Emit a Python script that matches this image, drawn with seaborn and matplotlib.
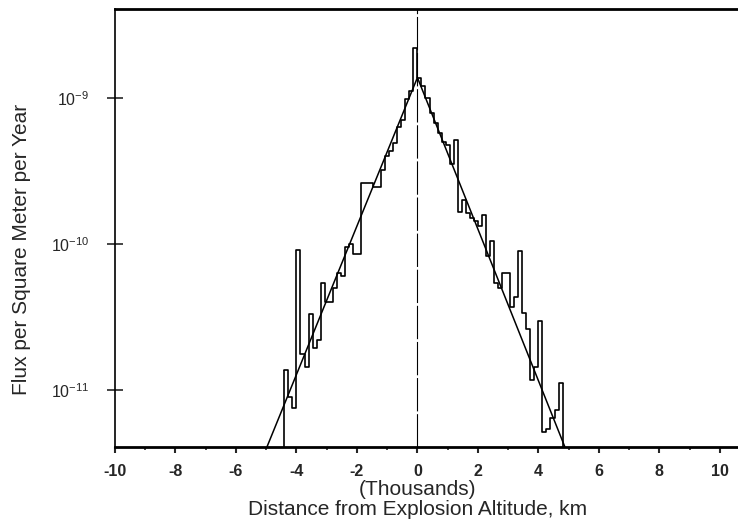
import numpy as np
import pandas as pd
import matplotlib
matplotlib.use("Agg")
import matplotlib.pyplot as plt
import seaborn as sns
from matplotlib.ticker import NullLocator, MultipleLocator

# histogram bins (thousands of km), 2/15 wide, starting at -4.4
bin_width = 2 / 15
first_edge = -4.4

# log10 of flux per bin left to right
log_flux = [
    -10.86, -11.05, -11.12, -10.04, -10.75, -10.84, -10.48, -10.71, -10.66, -10.27,
    -10.40, -10.40, -10.30, -10.20, -10.22, -10.02, -10.00, -10.07, -10.07, -9.58,
    -9.58, -9.58, -9.61, -9.61, -9.49, -9.40, -9.36, -9.31, -9.20, -9.15,
    -9.01, -8.95, -8.66,
    -8.86, -8.92, -9.00, -9.10, -9.17, -9.24, -9.30, -9.32, -9.45, -9.29,
    -9.78, -9.70, -9.79, -9.82, -9.84, -9.88, -9.80, -10.08, -9.98, -10.27,
    -10.30, -10.20, -10.20, -10.43, -10.36, -10.05, -10.47, -10.58, -10.93, -10.84,
    -10.53, -11.29, -11.27, -11.19, -11.14, -10.95,
]

# fitted exponential (straight on log axis)
fit_x = [-4.97, 0.0, 4.87]
fit_flux = [4.1e-12, 1.38e-9, 4.1e-12]

xticks = [-10, -8, -6, -4, -2, 0, 2, 4, 6, 8, 10]
yticks = [1e-11, 1e-10, 1e-9]
ytick_labels = ["10$^{-11}$", "10$^{-10}$", "10$^{-9}$"]

flux = 10 ** np.array(log_flux)
edges = first_edge + bin_width * np.arange(len(flux) + 1)
hist_df = pd.DataFrame({"distance": (edges[:-1] + edges[1:]) / 2, "flux": flux})
ylo, yhi = 4.07e-12, 4.07e-9

sns.set_style("ticks")
plt.rcParams["font.family"] = ["Liberation Sans", "DejaVu Sans"]
plt.rcParams["mathtext.fontset"] = "custom"
plt.rcParams["mathtext.rm"] = "Liberation Sans"
plt.rcParams["mathtext.it"] = "Liberation Sans"

fig = plt.figure(figsize=(7.38, 5.25), dpi=100)
ax = fig.add_axes([115 / 738, 78 / 525, 623 / 738, 438 / 525])
ax.set_yscale("log")

sns.histplot(data=hist_df, x="distance", weights="flux", bins=list(edges), element="step",
             fill=False, color="black", linewidth=1.2, ax=ax)
# close the outline down to the baseline at both ends
ax.vlines([edges[0], edges[-1]], ylo, [flux[0], flux[-1]], color="black", linewidth=1.2)

sns.lineplot(x=fit_x, y=fit_flux, color="black", linewidth=1.1, ax=ax)
ax.axvline(0, color="black", linewidth=0.8, linestyle=(0, (30, 2.5)))

ax.set_xlim(-10, 10.6)
ax.set_ylim(ylo, yhi)

ax.set_xticks(xticks)
ax.set_xticklabels([str(v) for v in xticks], fontsize=11.5, fontweight="bold")
ax.xaxis.set_minor_locator(MultipleLocator(1))
ax.tick_params(axis="x", which="major", direction="out", length=4, width=1.5, pad=8)
ax.tick_params(axis="x", which="minor", direction="out", length=2, width=1.2)

ax.set_yticks(yticks)
ax.set_yticklabels(ytick_labels, fontsize=11.5)
ax.yaxis.set_minor_locator(NullLocator())
ax.tick_params(axis="y", direction="inout", length=11, width=1.2, pad=13)

ax.set_xlabel("(Thousands)\nDistance from Explosion Altitude, km", fontsize=15,
              linespacing=1.1)
ax.xaxis.set_label_coords(0.486, -0.075)
ax.set_ylabel("Flux per Square Meter per Year", fontsize=15)
ax.yaxis.set_label_coords(-0.135, 0.45)

ax.spines["right"].set_visible(False)
ax.spines["top"].set_linewidth(2)
ax.spines["bottom"].set_linewidth(2)
ax.spines["left"].set_linewidth(1.2)
for s in ax.spines.values():
    s.set_color("black")

fig.savefig("out.png", dpi=100)
